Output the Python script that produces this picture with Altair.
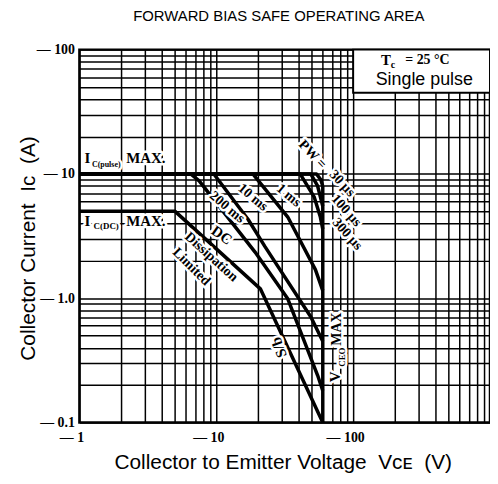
import altair as alt
import pandas as pd

# ---- grid / ticks ----
x_grid = [1, 2, 3, 4, 5, 6, 7, 8, 9, 10, 20, 30, 40, 50, 60, 70, 80, 90,
          100, 200, 300, 400, 500, 600, 700, 800, 900, 1000]
y_grid = [0.1, 0.2, 0.3, 0.4, 0.5, 0.6, 0.7, 0.8, 0.9, 1, 2, 3, 4, 5, 6, 7, 8, 9,
          10, 20, 30, 40, 50, 60, 70, 80, 90, 100]
x_tick_values = [1, 10, 100]
x_tick_labels = ["1", "10", "100"]
y_tick_values = [0.1, 1, 10, 100]
y_tick_labels = ["0.1", "1.0", "10", "100"]

# ---- SOA curves (V, A) ----
dc_v = [1, 5, 21, 60]
dc_i = [5, 5, 1.19, 0.1]
ms200_v = [1, 6.5, 7.5, 19.2, 33.3, 55, 60]
ms200_i = [10, 10, 8.8, 2.35, 0.99, 0.24, 0.18]
ms10_v = [1, 9.6, 17.1, 22.7, 49, 60]
ms10_i = [10, 10, 4.3, 2.6, 0.71, 0.45]
ms1_v = [1, 18.5, 33.3, 53, 60]
ms1_i = [10, 10, 4.5, 1.7, 1.15]
us300_v = [1, 41, 52, 57.6, 60]
us300_i = [10, 10, 6.5, 4.5, 3.6]
us100_v = [1, 49, 55, 60]
us100_i = [10, 10, 8, 5.5]
us30_v = [1, 54, 58, 60]
us30_i = [10, 10, 9, 8]
vceo_v = [60, 60]
vceo_i = [8, 0.1]

curves = {
    "DC": (dc_v, dc_i), "200ms": (ms200_v, ms200_i), "10ms": (ms10_v, ms10_i),
    "1ms": (ms1_v, ms1_i), "300us": (us300_v, us300_i), "100us": (us100_v, us100_i),
    "30us": (us30_v, us30_i), "VCEO": (vceo_v, vceo_i),
}
rows = []
for name, (vs, iis) in curves.items():
    for k, (v, i) in enumerate(zip(vs, iis)):
        rows.append({"series": name, "k": k, "V": v, "I": i})
curve_df = pd.DataFrame(rows)

# ---- annotations ----
ann_text = ["I", "C(pulse)", "MAX.", "I", "C(DC)", "MAX.", "PW =", "30 µs", "100 µs",
            "300 µs", "1 ms", "10 ms", "200 ms", "DC", "Dissipation", "Limited", "S/b",
            "V", "CEO", "MAX", "T", "c", "= 25 °C"]
ann_v = [1.143, 1.57, 3.06, 1.143, 1.57, 3.06, 50.4, 83.1, 89.1,
         90.6, 33.8, 18.5, 12.0, 11.0, 9.19, 6.59, 28.6,
         74.2, 83.1, 76.5, 173.7, 195, 349]
ann_i = [13.3, 11.9, 13.3, 4.17, 3.80, 4.17, 14.3, 8.38, 5.08,
         3.28, 6.70, 6.46, 5.39, 3.22, 2.15, 1.79, 0.402,
         0.233, 0.336, 0.564, 81.8, 74.6, 81.8]
ann_angle = [0, 0, 0, 0, 0, 0, 47, 47, 48,
             48, 40, 40, 40, 35, 42, 45, 250,
             270, 270, 270, 0, 0, 0]
ann_size = [15, 8, 15, 15, 9, 15, 14, 14, 14,
            14, 14, 14, 14, 15, 14, 14, 15,
            15, 9, 14, 15, 10, 14]
ann_df = pd.DataFrame({"t": ann_text, "V": ann_v, "I": ann_i,
                       "angle": ann_angle, "size": ann_size})

box_df = pd.DataFrame({"V": [100], "v2": [1000], "I": [45], "i2": [100]})
sans_df = pd.DataFrame({"t": ["Single pulse"], "V": [331], "I": [56.6]})

xs = alt.Scale(type="log", domain=[1, 1000], nice=False)
ys = alt.Scale(type="log", domain=[0.1, 100], nice=False)
NB = "\u00a0"


def expr(vals, labs):
    s = "''"
    for v, l in reversed(list(zip(vals, labs))):
        s = f"datum.value == {v} ? '—{NB}{l}' : ({s})"
    return s


x_axis = alt.Axis(values=x_grid, grid=True, gridColor="black", gridWidth=1.5, gridOpacity=1,
                  ticks=False, tickSize=0, domain=False, labelExpr=expr(x_tick_values, x_tick_labels),
                  labelFont="Liberation Serif", labelFontWeight="bold", labelFontSize=14,
                  labelColor="black", labelPadding=8, labelOffset=-8, labelFlush=False,
                  labelOverlap=False, labelBound=False,
                  title=f"Collector to Emitter Voltage{NB}{NB}Vᴄᴇ{NB}{NB}(V)", titleFont="Liberation Sans",
                  titleFontSize=21, titleFontWeight="normal", titleColor="black",
                  titleX=205, titleY=46, titleBaseline="alphabetic")
y_axis = alt.Axis(values=y_grid, grid=True, gridColor="black", gridWidth=1.5, gridOpacity=1,
                  ticks=False, tickSize=0, domain=False, labelExpr=expr(y_tick_values, y_tick_labels),
                  labelFont="Liberation Serif", labelFontWeight="bold", labelFontSize=14,
                  labelColor="black", labelPadding=5, labelFlush=False, labelOverlap=False,
                  labelBaseline="middle", labelBound=False,
                  title=f"Collector Current{NB}{NB}Iᴄ{NB}{NB}(A)", titleFont="Liberation Sans",
                  titleFontSize=21, titleFontWeight="normal", titleColor="black",
                  titleX=-45, titleY=200, titleBaseline="alphabetic", titleAngle=270)

X = alt.X("V:Q", scale=xs, axis=x_axis)
Y = alt.Y("I:Q", scale=ys, axis=y_axis)

lines = alt.Chart(curve_df).mark_line(color="black", strokeWidth=3.5, strokeJoin="round").encode(
    x=X, y=Y, detail="series:N", order="k:Q",
)

box = alt.Chart(box_df).mark_rect(fill="white", stroke="black", strokeWidth=2).encode(
    x=X, x2="v2:Q", y=Y, y2="i2:Q",
)

enc = dict(
    x=X, y=Y,
    text="t:N",
    angle=alt.Angle("angle:Q", scale=None),
    size=alt.Size("size:Q", scale=None, legend=None),
)
halo = alt.Chart(ann_df).mark_text(font="Liberation Serif", fontWeight="bold", align="center",
                                   baseline="middle", color="white", stroke="white",
                                   strokeWidth=5, strokeJoin="round").encode(**enc)
labels = alt.Chart(ann_df).mark_text(font="Liberation Serif", fontWeight="bold", align="center",
                                     baseline="middle", color="black").encode(**enc)
sans = alt.Chart(sans_df).mark_text(font="Liberation Sans", fontSize=18, align="center",
                                    baseline="middle", color="black").encode(
    x=X, y=Y, text="t:N")

chart = alt.layer(lines, box, halo, labels, sans).properties(
    width=414, height=376,
    title=alt.TitleParams("FORWARD BIAS SAFE OPERATING AREA", font="Liberation Sans",
                          fontSize=15, fontWeight="normal", color="black", anchor="middle",
                          offset=19, dx=-6),
    padding={"left": 72, "top": 40, "right": 0, "bottom": 60},
    autosize=alt.AutoSizeParams(type="none"),
).configure_view(stroke="black", strokeWidth=2.5)

chart.save("out.html", embed_options={"renderer": "svg", "actions": False})
